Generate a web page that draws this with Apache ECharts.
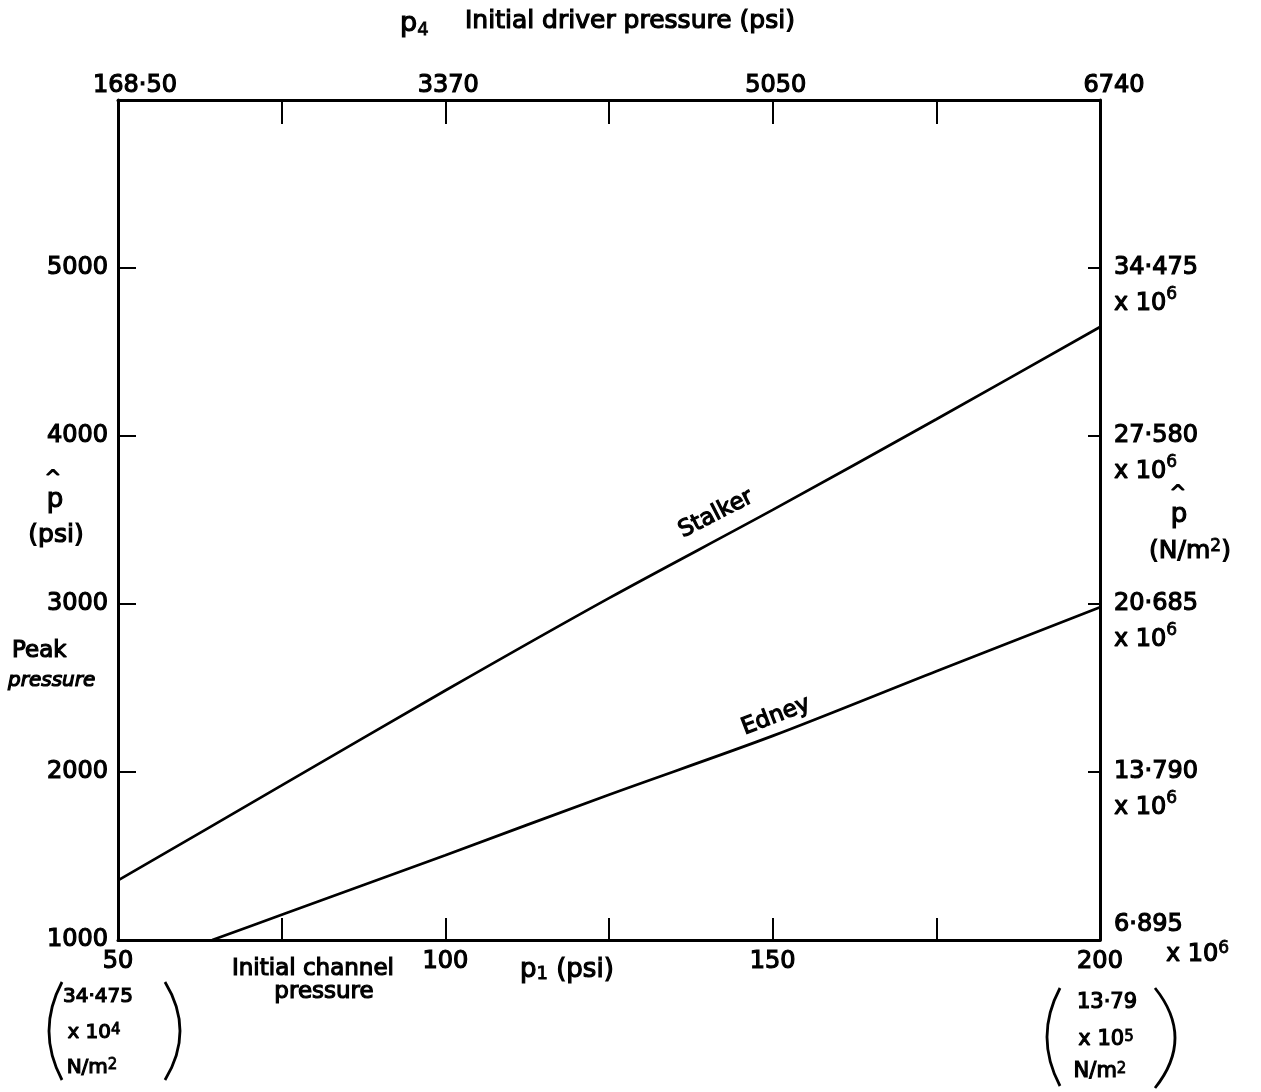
<!DOCTYPE html>
<html>
<head>
<meta charset="utf-8">
<script src="https://cdn.jsdelivr.net/npm/echarts@6/dist/echarts.min.js"></script>
<style>
  html, body { margin: 0; padding: 0; background: #fff; }
  #chart { width: 1261px; height: 1092px; }
</style>
</head>
<body>
<div id="chart"></div>
<script>
// Initial channel pressure p1 (psi) against peak pressure (psi)
const stalkerP1   = [50, 75, 100, 125, 150, 175, 200];
const stalkerPeak = [1355, 1920, 2485, 3035, 3560, 4100, 4649];

const edneyP1   = [64.4, 75, 100, 125, 150, 175, 200];
const edneyPeak = [1000, 1150, 1505, 1865, 2215, 2600, 2980];

// Tick labels
const p1Labelled      = [50, 100, 150, 200];
const driverLabels    = ['168·50', '3370', '5050', '6740'];     // p4 (psi) on the top axis
const peakLabelled    = [1000, 2000, 3000, 4000, 5000];
const peakSILabels    = ['6·895', '13·790', '20·685', '27·580', '34·475']; // x 10^6 N/m^2

const FONT = '"DejaVu Sans", "Liberation Sans", sans-serif';
const INK = '#000';
const LINE_W = 2.7;
const HEAVY = 1.2;   // outline added to the lettering to give it weight

const chart = echarts.init(document.getElementById('chart'), null, { renderer: 'canvas' });

function pairs(xs, ys) { return xs.map((x, i) => [x, ys[i]]); }

const baseText = { color: INK, fontFamily: FONT, fontSize: 24, textBorderColor: INK, textBorderWidth: HEAVY };

// rich styles for axis labels (ECharts label naming)
function ax(size, more) {
  return Object.assign({ fontFamily: FONT, fontSize: size, color: INK, textBorderColor: INK, textBorderWidth: HEAVY }, more || {});
}
const axisRich = {
  a:  ax(24, { lineHeight: 36 }),
  b:  ax(24, { lineHeight: 36 }),
  s:  ax(17, { lineHeight: 20, verticalAlign: 'top', textBorderWidth: 0.8 }),
  c:  ax(24, { lineHeight: 30 }),
  d:  ax(24, { lineHeight: 30, padding: [0, 0, 0, 52] }),
  s2: ax(17, { lineHeight: 16, verticalAlign: 'top', textBorderWidth: 0.8 }),
  t0: ax(24, { padding: [0, 0, 0, 34] }),
  t1: ax(24, { padding: [0, 0, 0, 6] }),
  t3: ax(24, { padding: [0, 0, 0, 28] })
};

// rich styles for free text (zrender naming)
function gr(size, more) {
  return Object.assign({ fontFamily: FONT, fontSize: size, fill: INK, stroke: INK, lineWidth: HEAVY }, more || {});
}
const graphicRich = {
  s:   gr(15, { lineHeight: 14, verticalAlign: 'top', lineWidth: 0.8 }),
  s24: gr(17, { lineHeight: 16, verticalAlign: 'top', lineWidth: 0.8 }),
  sub: gr(18, { lineHeight: 14, verticalAlign: 'bottom', lineWidth: 0.8 }),
  p:   gr(27, { lineHeight: 30 })
};

// Free text placed around the frame
function label(x, y, text, size, extra) {
  extra = extra || {};
  return {
    type: 'text', x: x, y: y, silent: true,
    rotation: extra.rotation || 0,
    style: {
      text: text, fill: INK, stroke: INK, lineWidth: HEAVY,
      fontFamily: FONT, fontSize: size, fontStyle: extra.italic ? 'italic' : 'normal',
      align: extra.align || 'left', verticalAlign: 'middle', rich: graphicRich
    }
  };
}

function paren(x, yTop, yBot, bulge) {
  return {
    type: 'bezierCurve', silent: true,
    shape: { x1: x, y1: yTop, x2: x, y2: yBot, cpx1: x + bulge, cpy1: (yTop + yBot) / 2 },
    style: { stroke: INK, lineWidth: 2.8, fill: null }
  };
}

const deg = Math.PI / 180;

const option = {
  backgroundColor: '#fff',
  animation: false,
  grid: { left: 118, right: 161, top: 100, bottom: 152, containLabel: false },
  xAxis: [
    {
      type: 'value', position: 'bottom', min: 50, max: 200, interval: 25,
      axisLine: { show: true, lineStyle: { color: INK, width: 3 } },
      axisTick: { show: true, inside: true, length: 22, lineStyle: { color: INK, width: 2 } },
      splitLine: { show: false },
      axisLabel: Object.assign({}, baseText, {
        margin: 10,
        formatter: v => (p1Labelled.indexOf(v) >= 0 ? String(v) : '')
      })
    },
    {
      type: 'value', position: 'top', min: 50, max: 200, interval: 25,
      axisLine: { show: true, lineStyle: { color: INK, width: 3 } },
      axisTick: { show: true, inside: true, length: 24, lineStyle: { color: INK, width: 2 } },
      splitLine: { show: false },
      axisLabel: {
        margin: 2, color: INK, fontFamily: FONT, fontSize: 24,
        rich: axisRich,
        formatter: v => {
          const i = p1Labelled.indexOf(v);
          if (i < 0) return '';
          const key = i === 0 ? 't0' : (i === p1Labelled.length - 1 ? 't3' : 't1');
          return '{' + key + '|' + driverLabels[i] + '}';
        }
      }
    }
  ],
  yAxis: [
    {
      type: 'value', position: 'left', min: 1000, max: 6000, interval: 1000,
      axisLine: { show: true, lineStyle: { color: INK, width: 3 } },
      axisTick: { show: true, inside: true, length: 18, lineStyle: { color: INK, width: 2 } },
      splitLine: { show: false },
      axisLabel: Object.assign({}, baseText, {
        margin: 10,
        formatter: v => (peakLabelled.indexOf(v) >= 0 ? String(v) : '')
      })
    },
    {
      type: 'value', position: 'right', min: 1000, max: 6000, interval: 1000,
      axisLine: { show: true, lineStyle: { color: INK, width: 3 } },
      axisTick: { show: true, inside: true, length: 12, lineStyle: { color: INK, width: 2 } },
      splitLine: { show: false },
      axisLabel: {
        margin: 14, color: INK, fontFamily: FONT, fontSize: 24, lineHeight: 36,
        align: 'left', verticalAlign: 'middle',
        rich: axisRich,
        formatter: v => {
          const i = peakLabelled.indexOf(v);
          if (i < 0) return '';
          if (i === 0) return '{c|' + peakSILabels[i] + '}\n{d|x 10}{s2|6}';
          return '\n{a|' + peakSILabels[i] + '}\n{b|x 10}{s|6}';
        }
      }
    }
  ],
  series: [
    {
      name: 'Stalker', type: 'line', xAxisIndex: 0, yAxisIndex: 0,
      data: pairs(stalkerP1, stalkerPeak),
      showSymbol: false, smooth: 0.3,
      lineStyle: { color: INK, width: LINE_W }
    },
    {
      name: 'Edney', type: 'line', xAxisIndex: 0, yAxisIndex: 0,
      data: pairs(edneyP1, edneyPeak),
      showSymbol: false, smooth: 0.3,
      lineStyle: { color: INK, width: LINE_W }
    }
  ],
  graphic: [
    // top axis title
    label(400, 24, '{p|p}{sub|4}', 27),
    label(465, 21, 'Initial driver pressure (psi)', 25),

    // left axis title
    label(53, 479, '^', 20, { align: 'center' }),
    label(55, 500, 'p', 26, { align: 'center' }),
    label(56, 535, '(psi)', 25, { align: 'center' }),
    label(12, 651, 'Peak', 23),
    label(8, 681, 'pressure', 20, { italic: true }),

    // right axis title
    label(1178, 494, '^', 20, { align: 'center' }),
    label(1179, 515, 'p', 26, { align: 'center' }),
    label(1190, 551, '(N/m{s24|2})', 25, { align: 'center' }),

    // bottom axis title
    label(232, 969, 'Initial channel', 23),
    label(324, 992, 'pressure', 23, { align: 'center' }),
    label(520, 970, 'p{sub|1} (psi)', 26),

    // SI equivalents below the ends of the p1 scale
    paren(62, 982, 1080, -26),
    paren(165, 982, 1080, 30),
    label(98, 997, '34·475', 20, { align: 'center' }),
    label(94, 1033, 'x 10{s|4}', 20, { align: 'center' }),
    label(92, 1068, 'N/m{s|2}', 20, { align: 'center' }),

    paren(1060, 988, 1086, -26),
    paren(1155, 988, 1088, 40),
    label(1107, 1003, '13·79', 21, { align: 'center' }),
    label(1106, 1040, 'x 10{s|5}', 21, { align: 'center' }),
    label(1100, 1072, 'N/m{s|2}', 21, { align: 'center' }),

    // curve names
    label(716, 514, 'Stalker', 23, { rotation: 27 * deg, align: 'center' }),
    label(776, 716, 'Edney', 23, { rotation: 21 * deg, align: 'center' })
  ]
};

chart.setOption(option);
</script>
</body>
</html>
